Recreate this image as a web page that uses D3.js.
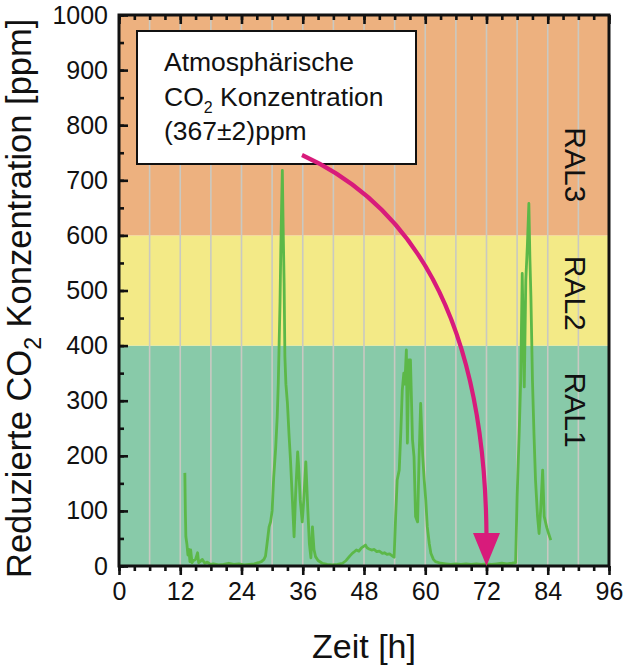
<!DOCTYPE html>
<html>
<head>
<meta charset="utf-8">
<script src="https://cdn.jsdelivr.net/npm/d3@7"></script>
<style>
  html, body { margin: 0; padding: 0; background: #ffffff; }
  svg { display: block; font-family: "Liberation Sans", Arial, Helvetica, sans-serif; }
</style>
</head>
<body>
<svg id="chart" width="628" height="666"></svg>
<script>
// ---------------- data ----------------
const hours = [
  12.9, 13.0, 13.1, 13.3, 13.5, 13.7, 13.9, 14.05, 14.3, 14.6, 15.0, 15.4, 15.6, 16.0, 16.3, 16.8, 17.3, 17.9,
  18.5, 19.5, 20.5, 21.5, 22.5, 23.5, 24.5, 25.5, 26.5, 27.3, 27.9, 28.4, 28.7, 29.0, 29.4, 29.7, 30.0, 30.3,
  30.7, 31.0, 31.2, 31.35, 31.55, 31.7, 31.85, 32.0, 32.15, 32.35, 32.5, 32.7, 33.0, 33.3, 33.6, 34.0, 34.3,
  34.6, 35.0, 35.2, 35.5, 35.9, 36.2, 36.6, 37.0, 37.3, 37.6, 37.9, 38.2, 38.5, 39.0, 39.8, 40.8, 41.8, 42.8,
  43.8, 44.5, 45.2, 45.7, 46.0, 46.5, 47.0, 47.5, 48.0, 48.3, 48.6, 49.0, 49.5, 50.0, 50.5, 51.0, 51.6, 52.0,
  52.5, 53.0, 53.6, 53.9,
  54.2, 54.5, 54.9, 55.2, 55.5, 55.8, 56.0, 56.3, 56.5, 56.8, 57.1, 57.5, 57.8, 58.1, 58.5, 58.8, 59.1, 59.5,
  59.8, 60.1, 60.4, 60.8, 61.1, 61.6, 62.0, 63.0, 64.0, 65.0, 66.0, 67.0, 68.0, 69.0, 70.0, 71.0, 72.0, 73.0,
  74.0, 75.0, 76.0, 77.0, 77.7, 78.0, 78.4, 78.7, 79.0, 79.2, 79.4, 79.7, 80.0, 80.3, 80.5, 80.7, 81.0, 81.3,
  81.6, 82.0, 82.3, 82.6, 83.0, 83.3, 83.8, 84.2, 84.6
];
const co2 = [
  169, 100, 53, 40, 20, 30, 8, 29, 6, 10, 12, 24, 6, 9, 12, 5, 7, 3,
  4, 2, 3, 5, 3, 4, 2, 3, 4, 6, 8, 12, 18, 40, 71, 80, 100, 160,
  215, 271, 330, 392, 480, 573, 650, 718, 620, 513, 380, 330, 295, 240, 192, 114, 53,
  130, 207, 180, 120, 80, 120, 189, 100, 40, 15, 71, 30, 17, 10, 5, 3, 2, 3,
  5, 10, 18, 23, 25, 29, 27, 33, 36, 38, 33, 31, 29, 30, 26, 27, 23, 24,
  21, 22, 18, 16,
  90, 156, 174, 240, 319, 350, 330, 392, 223, 374, 374, 229, 198, 90, 80, 200, 295, 200,
  156, 120, 71, 40, 23, 12, 8, 5, 4, 3, 4, 3, 4, 3, 4, 3, 4, 3,
  4, 5, 4, 5, 6, 126, 240, 338, 531, 420, 325, 519, 580, 658, 560, 489, 338, 240,
  156, 90, 59, 100, 174, 90, 70, 58, 47
];
const bandNames = ["RAL1", "RAL2", "RAL3"];
const bandLow   = [0, 400, 600];
const bandHigh  = [400, 600, 1000];
const bandLabelAt = [283, 495, 728];
const xTicks = [0, 12, 24, 36, 48, 60, 72, 84, 96];
const yTicks = [0, 100, 200, 300, 400, 500, 600, 700, 800, 900, 1000];
const annotationLines = ["Atmosphärische", "CO2 Konzentration", "(367±2)ppm"];
const atmosphericHour = 72;
const atmosphericValue = 0;

// ---------------- layout ----------------
const L = 119, R = 609, T = 15, B = 566;
const bandColors = ["#88caa9", "#f3ea87", "#edb17f"];
const lineColor = "#5cb848";
const arrowColor = "#d81b7b";

const svg = d3.select("#chart");
const x = d3.scaleLinear().domain([0, 96]).range([L, R]);
const y = d3.scaleLinear().domain([0, 1000]).range([B, T]);

// bands
svg.append("g").selectAll("rect").data(bandNames).join("rect")
  .attr("x", L).attr("width", R - L)
  .attr("y", (d, i) => y(bandHigh[i]))
  .attr("height", (d, i) => y(bandLow[i]) - y(bandHigh[i]))
  .attr("fill", (d, i) => bandColors[i]);

// vertical grid every 6 h
svg.append("g").selectAll("line").data(d3.range(6, 96, 6)).join("line")
  .attr("x1", d => x(d)).attr("x2", d => x(d))
  .attr("y1", T).attr("y2", B)
  .attr("stroke", "#c9c9c2").attr("stroke-width", 1.6);

// band labels (rotated)
svg.append("g").selectAll("text").data(bandNames).join("text")
  .attr("transform", (d, i) => `translate(565,${y(bandLabelAt[i])}) rotate(90)`)
  .attr("text-anchor", "middle")
  .attr("font-size", 30)
  .attr("fill", "#111")
  .text(d => d);

// data line
svg.append("path")
  .datum(hours.map((h, i) => [h, co2[i]]))
  .attr("fill", "none")
  .attr("stroke", lineColor)
  .attr("stroke-width", 2.8)
  .attr("stroke-linejoin", "round")
  .attr("d", d3.line().x(d => x(d[0])).y(d => y(d[1])));

// axes
const fontTick = 25;
const bottomMinor = d3.axisBottom(x).tickValues(d3.range(0, 97, 3)).tickSize(5).tickFormat("");
const bottomMajor = d3.axisBottom(x).tickValues(xTicks).tickSize(9).tickPadding(7).tickFormat(d3.format("d"));
const gbMinor = svg.append("g").attr("transform", `translate(0,${B})`).call(bottomMinor);
const gbMajor = svg.append("g").attr("transform", `translate(0,${B})`).call(bottomMajor);
const topMinor = d3.axisTop(x).tickValues(d3.range(0, 97, 3)).tickSize(-5).tickFormat("");
const topMajor = d3.axisTop(x).tickValues(xTicks).tickSize(-9).tickFormat("");
const gtMinor = svg.append("g").attr("transform", `translate(0,${T})`).call(topMinor);
const gtMajor = svg.append("g").attr("transform", `translate(0,${T})`).call(topMajor);
const leftMinor = d3.axisLeft(y).tickValues(d3.range(0, 1001, 50)).tickSize(-5).tickFormat("");
const leftMajor = d3.axisLeft(y).tickValues(yTicks).tickSize(-9).tickPadding(11).tickFormat(d3.format("d"));
const glMinor = svg.append("g").attr("transform", `translate(${L},0)`).call(leftMinor);
const glMajor = svg.append("g").attr("transform", `translate(${L},0)`).call(leftMajor);

[gbMinor, gbMajor, gtMinor, gtMajor, glMinor, glMajor].forEach(g => {
  g.select(".domain").remove();
  g.selectAll(".tick line").attr("stroke", "#111").attr("stroke-width", 2.6);
  g.selectAll("text").attr("font-size", fontTick).attr("fill", "#111")
    .attr("font-family", "'Liberation Sans', Arial, sans-serif");
});
gbMajor.selectAll("text").attr("dy", "0.71em");

// frame
svg.append("rect")
  .attr("x", L).attr("y", T).attr("width", R - L).attr("height", B - T)
  .attr("fill", "none").attr("stroke", "#111").attr("stroke-width", 3);

// annotation box
const box = svg.append("g");
box.append("rect")
  .attr("x", 137).attr("y", 31).attr("width", 279).attr("height", 133)
  .attr("fill", "#ffffff").attr("stroke", "#111").attr("stroke-width", 2);
const baselines = [71, 106, 140];
annotationLines.forEach((s, i) => {
  const t = box.append("text").attr("x", 164).attr("y", baselines[i])
    .attr("font-size", 26.5).attr("fill", "#111");
  if (s.startsWith("CO2")) {
    t.append("tspan").text("CO");
    t.append("tspan").attr("font-size", 16).attr("dy", 7).text("2");
    t.append("tspan").attr("dy", -7).text(s.slice(3));
  } else {
    t.text(s);
  }
});

// arrow to atmospheric level
const tipX = x(atmosphericHour), tipY = y(atmosphericValue);
const headLen = 33, headHalf = 13.5;
const p = d3.path();
p.moveTo(302, 155);
p.quadraticCurveTo(484, 238, tipX, tipY - headLen + 2);
svg.append("path").attr("d", p.toString())
  .attr("fill", "none").attr("stroke", arrowColor).attr("stroke-width", 4.2);
svg.append("path")
  .attr("d", `M${tipX},${tipY} L${tipX - headHalf},${tipY - headLen} L${tipX + headHalf},${tipY - headLen} Z`)
  .attr("fill", arrowColor);

// axis titles
svg.append("text")
  .attr("x", (L + R) / 2).attr("y", 658)
  .attr("text-anchor", "middle").attr("font-size", 34).attr("fill", "#111")
  .text("Zeit [h]");

const yt = svg.append("text")
  .attr("transform", "translate(31,578) rotate(-90)")
  .attr("text-anchor", "start").attr("font-size", 34.5).attr("fill", "#111");
yt.append("tspan").text("Reduzierte CO");
yt.append("tspan").attr("font-size", 23).attr("dy", 10).text("2");
yt.append("tspan").attr("dy", -10).text(" Konzentration [ppm]");
</script>
</body>
</html>
